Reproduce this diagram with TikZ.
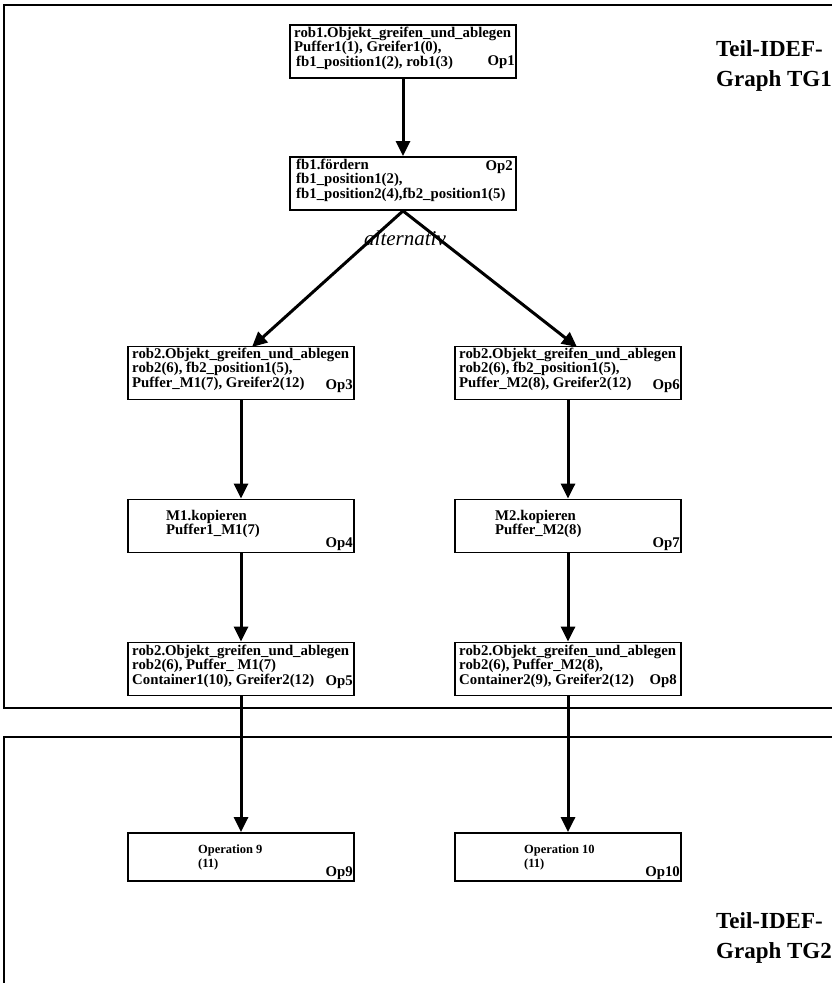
\documentclass[tikz,border=0pt]{standalone}
\usepackage{fontspec}
\setmainfont{Liberation Serif}
\usetikzlibrary{arrows.meta}
\begin{document}
\begin{tikzpicture}[x=1pt,y=-1pt,
  frame/.style={line width=2.4pt},
  opbox/.style={draw, line width=1.8pt, minimum width=226pt, minimum height=53pt, inner sep=0pt},
  endbox/.style={opbox, minimum height=48pt},
  optext/.style={anchor=north west, align=left, inner sep=0pt,
    font=\bfseries\fontsize{14.8}{14.2}\selectfont},
  smalltext/.style={optext, font=\bfseries\fontsize{12.5}{14}\selectfont},
  oplbl/.style={anchor=base east, inner sep=0pt, font=\bfseries\fontsize{14.8}{14}\selectfont},
  flow/.style={line width=3pt, -{Triangle[length=15pt,width=14pt]}},
  title/.style={anchor=north west, align=left, inner sep=0pt,
    font=\bfseries\fontsize{23}{30}\selectfont},
  alt/.style={inner sep=0pt, font=\itshape\fontsize{21}{21}\selectfont}]
\useasboundingbox (0,0) rectangle (832,983);
\clip (0,0) rectangle (832,983);

% frames of the two partial graphs
\draw[frame] (840,5) -- (4,5) -- (4,708) -- (840,708);
\draw[frame] (840,737) -- (4,737) -- (4,990);

\node[title] (tg1) at (716,40) {Teil-IDEF-\\Graph TG1};
\node[title] (tg2) at (716,912) {Teil-IDEF-\\Graph TG2};

% operation boxes
\node[opbox] (op1) at (403,51.5) {};
\node[opbox] (op2) at (403,183.5) {};
\node[opbox] (op3) at (241,373) {};
\node[opbox] (op6) at (568,373) {};
\node[opbox] (op4) at (241,526) {};
\node[opbox] (op7) at (568,526) {};
\node[opbox] (op5) at (241,669) {};
\node[opbox] (op8) at (568,669) {};
\node[endbox] (op9) at (241,857) {};
\node[endbox] (op10) at (568,857) {};

% box texts
\node[optext] (t1) at (294,27) {rob1.Objekt\_greifen\_und\_ablegen\\Puffer1(1), Greifer1(0),\\\hspace{2pt}fb1\_position1(2), rob1(3)};
\node[oplbl] (l1) at (515,65) {Op1};

\node[optext] (t2) at (296,159) {fb1.fördern\\fb1\_position1(2),\\fb1\_position2(4),fb2\_position1(5)};
\node[oplbl] (l2) at (513,170) {Op2};

\node[optext] (t3) at (132,348) {rob2.Objekt\_greifen\_und\_ablegen\\rob2(6), fb2\_position1(5),\\Puffer\_M1(7), Greifer2(12)};
\node[oplbl] (l3) at (353,389) {Op3};

\node[optext] (t6) at (459,348) {rob2.Objekt\_greifen\_und\_ablegen\\rob2(6), fb2\_position1(5),\\Puffer\_M2(8), Greifer2(12)};
\node[oplbl] (l6) at (680,389) {Op6};

\node[optext] (t4) at (166,510) {M1.kopieren\\Puffer1\_M1(7)};
\node[oplbl] (l4) at (353,547) {Op4};

\node[optext] (t7) at (495,510) {M2.kopieren\\Puffer\_M2(8)};
\node[oplbl] (l7) at (680,547) {Op7};

\node[optext] (t5) at (132,645) {rob2.Objekt\_greifen\_und\_ablegen\\rob2(6), Puffer\_ M1(7)\\Container1(10), Greifer2(12)};
\node[oplbl] (l5) at (353,685) {Op5};

\node[optext] (t8) at (459,645) {rob2.Objekt\_greifen\_und\_ablegen\\rob2(6), Puffer\_M2(8),\\Container2(9), Greifer2(12)};
\node[oplbl] (l8) at (677,684) {Op8};

\node[smalltext] (t9) at (198,845) {Operation 9\\(11)};
\node[oplbl] (l9) at (353,876) {Op9};

\node[smalltext] (t10) at (524,845) {Operation 10\\(11)};
\node[oplbl] (l10) at (680,876) {Op10};

% control flow
\draw[flow] (op1.south) -- (op2.north);
\coordinate (split) at (op2.south);
\draw[flow] (split) -- (252,347);
\draw[flow] (split) -- (577,347);
\node[alt] (alt) at (405,238) {alternativ};
\draw[flow] (op3.south) -- (op4.north);
\draw[flow] (op6.south) -- (op7.north);
\draw[flow] (op4.south) -- (op5.north);
\draw[flow] (op7.south) -- (op8.north);
\draw[flow] (op5.south) -- (op9.north);
\draw[flow] (op8.south) -- (op10.north);
\end{tikzpicture}
\end{document}
